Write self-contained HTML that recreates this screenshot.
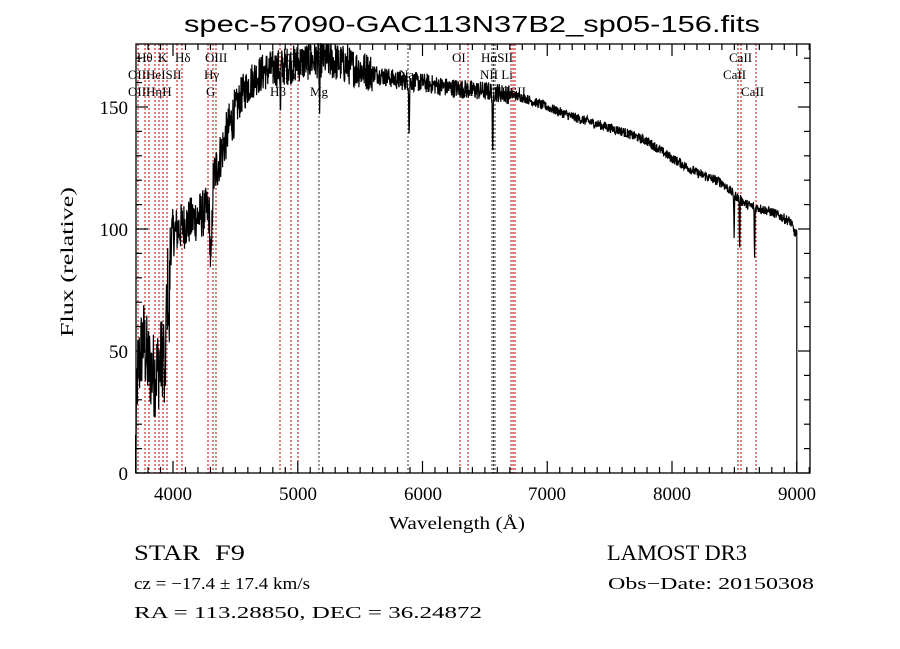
<!DOCTYPE html>
<html><head><meta charset="utf-8"><style>
html,body{margin:0;padding:0;background:#fff;}
svg{display:block;}
text{font-family:"Liberation Serif",serif;fill:#000;}
.s{font-family:"Liberation Sans",sans-serif;}
</style></head><body>
<svg id="c" width="900" height="649" viewBox="0 0 900 649" xmlns="http://www.w3.org/2000/svg">
<rect width="900" height="649" fill="#fff"/>
<g id="lines"></g>
<path id="spec" fill="none" stroke="#000" stroke-width="1.2"/>
<rect x="136" y="44" width="674" height="429" fill="none" stroke="#000" stroke-width="1.3"/>
<g id="ticks" stroke="#000" stroke-width="1.2"></g>
<g font-size="13">
<text x="137" y="62">Hθ</text><text x="158" y="62">K</text><text x="175" y="62">Hδ</text><text x="205" y="62">OIII</text>
<text x="286" y="62">OIII</text><text x="452" y="62">OI</text><text x="481" y="62">HαSII</text><text x="729" y="62">CaII</text>
<text x="128" y="79">OIIHeISII</text><text x="204" y="79">Hγ</text><text x="281" y="79">Ca</text><text x="399" y="79">Na</text><text x="480" y="79">NII Li</text><text x="723" y="79">CaII</text>
<text x="128" y="96">OIIHηH</text><text x="206" y="96">G</text><text x="270" y="96">Hβ</text><text x="310" y="96">Mg</text><text x="460" y="96">OI</text><text x="492" y="96">NIISII</text><text x="741" y="96">CaII</text>
</g>
<g font-size="19" class="s" text-anchor="middle">
<text x="173" y="500">4000</text><text x="298" y="500">5000</text><text x="423" y="500">6000</text><text x="547" y="500">7000</text><text x="672" y="500">8000</text><text x="797" y="500">9000</text>
</g>
<g font-size="19" class="s" text-anchor="end">
<text x="128" y="480">0</text><text x="128" y="358">50</text><text x="128" y="236">100</text><text x="128" y="114">150</text>
</g>
<text x="184" y="32" font-size="23" class="s" textLength="576" lengthAdjust="spacingAndGlyphs">spec-57090-GAC113N37B2_sp05-156.fits</text>
<text x="389" y="529" font-size="18" textLength="136" lengthAdjust="spacingAndGlyphs">Wavelength (Å)</text>
<text transform="translate(73,262) rotate(-90)" font-size="18" text-anchor="middle" textLength="150" lengthAdjust="spacingAndGlyphs">Flux (relative)</text>
<text x="134" y="560" font-size="22" textLength="66" lengthAdjust="spacingAndGlyphs">STAR</text>
<text x="215" y="560" font-size="22" textLength="30" lengthAdjust="spacingAndGlyphs">F9</text>
<text x="607" y="560" font-size="22" textLength="140" lengthAdjust="spacingAndGlyphs">LAMOST DR3</text>
<text x="134" y="589" font-size="17" textLength="176" lengthAdjust="spacingAndGlyphs">cz = −17.4 ± 17.4 km/s</text>
<text x="608" y="589" font-size="17" textLength="206" lengthAdjust="spacingAndGlyphs">Obs−Date: 20150308</text>
<text x="134" y="618" font-size="17" textLength="348" lengthAdjust="spacingAndGlyphs">RA = 113.28850, DEC =  36.24872</text>
</svg>
<script>
var NS="http://www.w3.org/2000/svg";
function X(l){return 173+(l-4000)*0.12475;}
function Y(f){return 473-f*2.44;}
function el(p,t,a){var e=document.createElementNS(NS,t);for(var k in a)e.setAttribute(k,a[k]);p.appendChild(e);return e;}
var L=document.getElementById('lines');
var red=[138,145,149,155,159,163,167,177,182,208,213,216,280,291,298,460,468,511,513,515,738,741,756];
red.forEach(function(x){el(L,'line',{x1:x,x2:x,y1:44,y2:473,stroke:'#c00000','stroke-width':1,'stroke-dasharray':'2,2'});});
[319,408,492,493.5,495].forEach(function(x){el(L,'line',{x1:x,x2:x,y1:44,y2:473,stroke:'#333','stroke-width':1,'stroke-dasharray':'2,2'});});
var T=document.getElementById('ticks');
for(var l=3800;l<=9100;l+=100){var x=X(l);var m=(l%1000==0)?12:6;
el(T,'line',{x1:x,x2:x,y1:473,y2:473-m});el(T,'line',{x1:x,x2:x,y1:44,y2:44+m});}
for(var f=0;f<=170;f+=10){var y=Y(f);var m=(f%50==0)?12:6;
el(T,'line',{x1:136,x2:136+m,y1:y,y2:y});el(T,'line',{x1:810,x2:810-m,y1:y,y2:y});}
var K=[[3700,10],[3715,40],[3760,55],[3800,45],[3850,40],[3900,45],[3940,55],[3960,80],[3990,98],[4100,102],[4200,105],[4290,108],[4320,120],[4380,130],[4450,142],[4550,155],[4650,162],[4750,165],[4850,166],[5000,168],[5200,170],[5400,167],[5600,164],[5800,161],[6000,160],[6200,158],[6400,157],[6600,156],[6800,154],[7000,150],[7200,146],[7400,143],[7600,140],[7800,136],[8000,129],[8200,123],[8400,119],[8500,114],[8600,110],[8800,107],[8950,103],[8995,97]];
function cont(l){for(var i=0;i<K.length-1;i++){if(l<=K[i+1][0]){var t=(l-K[i][0])/(K[i+1][0]-K[i][0]);return K[i][1]+t*(K[i+1][1]-K[i][1]);}}return 98;}
var dips=[[4305,30,10],[4861,22,3],[5175,22,4],[5893,22,4],[6563,28,4],[8498,18,3],[8542,22,3],[8662,22,3],[3934,30,5],[3968,30,5]];
var s=12345;function rnd(){s=(s*1103515245+12345)%2147483648;return s/2147483648;}
var d="";
for(var l=3700;l<=9000;l+=2.5){
var f=cont(l);var amp=l<3980?18:(l<4500?10:(l<5600?8:(l<6700?4:2)));
f+=(rnd()-0.5)*2*amp;
dips.forEach(function(q){var z=(l-q[0])/q[2];f-=q[1]*Math.exp(-z*z);});
if(f<0)f=0;if(f>176)f=176;
d+=(d?"L":"M")+X(l).toFixed(1)+","+Y(f).toFixed(1);}
d+="L"+X(9000).toFixed(1)+","+Y(0);
d="M"+X(3700).toFixed(1)+","+Y(0)+"L"+d.slice(1);
document.getElementById('spec').setAttribute('d',d);
</script>
</body></html>
